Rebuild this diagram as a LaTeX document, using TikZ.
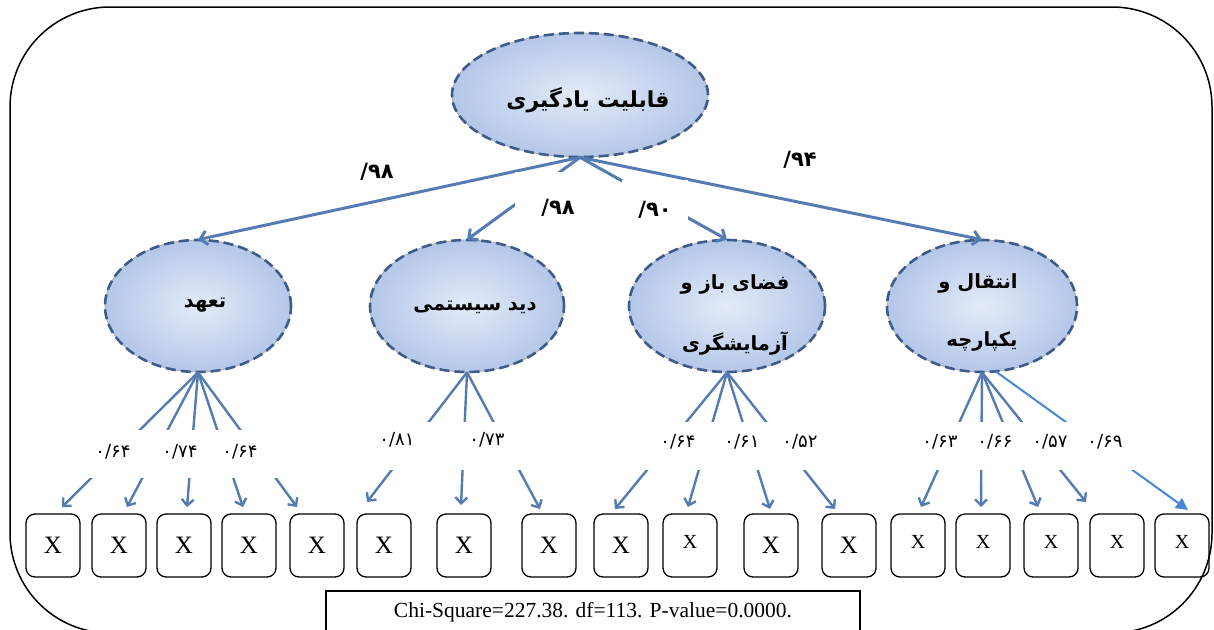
\documentclass[tikz,border=0pt]{standalone}
\usepackage{fontspec}
\setmainfont{Liberation Serif}
\newfontfamily\fa[Script=Arabic]{DejaVu Sans}
\newfontfamily\faL{DejaVu Sans}
\TeXXeTstate=1
\usetikzlibrary{shapes.geometric,arrows.meta}
\definecolor{lineblue}{RGB}{84,124,178}
\definecolor{brightblue}{RGB}{70,135,215}
\definecolor{ellborder}{RGB}{62,92,138}
\definecolor{ellin}{RGB}{228,235,247}
\definecolor{ellout}{RGB}{180,199,233}
\begin{document}
\begin{tikzpicture}[x=1pt,y=-1pt,
  latent/.style={ellipse, inner sep=0pt, shading=radial, inner color=ellin, outer color=ellout,
    draw=gray!70, line width=0.7pt,
    postaction={draw=ellborder, line width=2.6pt, dash pattern=on 10pt off 5pt}},
  lattext/.style={font=\fa\bfseries\fontsize{19.5}{20}\selectfont, inner sep=0pt, align=center},
  indicator/.style={draw, rounded corners=9pt, line width=1.3pt, minimum width=54pt,
    minimum height=63pt, inner sep=0pt, font=\fontsize{25}{25}\selectfont},
  toparrow/.style={draw=lineblue, line width=3pt, -{Straight Barb[length=7pt,width=14pt]}},
  fan/.style={draw=lineblue, line width=2.4pt, -{Straight Barb[length=6pt,width=12pt]}},
  brightfan/.style={draw=brightblue, line width=2pt, -{Triangle[length=12pt,width=12pt]}},
  toplab/.style={font=\fa\bfseries\fontsize{21}{21}\selectfont, inner sep=0pt},
  numlab/.style={font=\fa\fontsize{18}{18}\selectfont, inner sep=0pt}
]
\useasboundingbox (0,0) rectangle (1214,629);
% outer frame
\draw[line width=1.5pt, rounded corners=100pt] (10,7) rectangle (1212,633);
% fit statistics box
\node[draw, line width=1.2pt, minimum width=534pt, minimum height=42pt, inner sep=0pt,
      font=\fontsize{21.5}{22}\selectfont] (chi) at (593,612) {Chi-Square=227.38. df=113. P-value=0.0000.};

% latent variables
\node[latent, minimum width=256pt, minimum height=124pt] (top) at (580,95) {};
\node[lattext, font=\fa\bfseries\fontsize{22}{24}\selectfont] (toptext) at (588,100) {\beginR قابلیت یادگیری\endR};
\node[latent, minimum width=186pt, minimum height=132pt] (e1) at (198,306) {};
\node[lattext] (e1t) at (205,305) {\beginR تعهد\endR};
\node[latent, minimum width=194pt, minimum height=132pt] (e2) at (467,306) {};
\node[lattext] (e2t) at (475,307) {\beginR دید سیستمی\endR};
\node[latent, minimum width=196pt, minimum height=132pt] (e3) at (727,306) {};
\node[lattext] (e3a) at (735,284) {\beginR فضای باز و\endR};
\node[lattext] (e3b) at (735,344) {\beginR آزمایشگری\endR};
\node[latent, minimum width=190pt, minimum height=132pt] (e4) at (982,306) {};
\node[lattext] (e4a) at (978,283) {\beginR انتقال و\endR};
\node[lattext] (e4b) at (982,341) {\beginR یکپارچه\endR};

% indicators
\foreach \i/\x in {1/53,2/119,3/184,4/249,5/317,6/384,7/464,8/549,9/621,11/771,12/849}
  \node[indicator] (b\i) at (\x,545.5) {X};
\foreach \i/\x in {10/690,13/918,14/983,15/1051,16/1117,17/1182}
  \node[indicator] (b\i) at (\x,545.5) {\raisebox{7pt}{\fontsize{20}{20}\selectfont X}};

% arrow tip points above indicators
\coordinate (t1) at (62,507);  \coordinate (t2) at (127,507); \coordinate (t3) at (187,507);
\coordinate (t4) at (243,507); \coordinate (t5) at (297,507);
\coordinate (t6) at (367,502); \coordinate (t7) at (461,505); \coordinate (t8) at (540,509);
\coordinate (t9) at (615,509); \coordinate (t10) at (688,507); \coordinate (t11) at (770,509);
\coordinate (t12) at (835,509);
\coordinate (t13) at (921,507); \coordinate (t14) at (981,507); \coordinate (t15) at (1038,507);
\coordinate (t16) at (1086,502); \coordinate (t17) at (1188,510);

% structural paths
\draw[toparrow] (top.south) -- (e1.north);
\draw[toparrow] (top.south) -- (e2.north);
\draw[toparrow] (top.south) -- (e3.north);
\draw[toparrow] (top.south) -- (e4.north);

% measurement paths
\foreach \j in {1,...,5} \draw[fan] (e1.south) -- (t\j);
\foreach \j in {6,7,8} \draw[fan] (e2.south) -- (t\j);
\foreach \j in {9,...,12} \draw[fan] (e3.south) -- (t\j);
\foreach \j in {13,...,16} \draw[fan] (e4.south) -- (t\j);
\draw[brightfan] (e4.-78) -- (t17);

% white label backgrounds
\fill[white] (515,172) rectangle (595,232);
\fill[white] (622,180) rectangle (688,238);
\fill[white] (82,430) rectangle (290,478);
\fill[white] (378,422) rectangle (527,470);
\fill[white] (635,422) rectangle (822,470);
\fill[white] (920,422) rectangle (1140,470);

% coefficient labels
\node[toplab] (l1) at (377,172) {{\faL\bfseries/}۹۸};
\node[toplab] (l2) at (558,208) {{\faL\bfseries/}۹۸};
\node[toplab] (l3) at (655,210) {{\faL\bfseries/}۹۰};
\node[toplab] (l4) at (800,160) {{\faL\bfseries/}۹۴};

\node[numlab] (n1) at (113,452) {۰/۶۴};
\node[numlab] (n2) at (180,452) {۰/۷۴};
\node[numlab] (n3) at (240,452) {۰/۶۴};
\node[numlab] (n6) at (397,440) {۰/۸۱};
\node[numlab] (n7) at (487,440) {۰/۷۳};
\node[numlab] (n9) at (678,442) {۰/۶۴};
\node[numlab] (n10) at (742,442) {۰/۶۱};
\node[numlab] (n11) at (800,442) {۰/۵۲};
\node[numlab] (n13) at (940,442) {۰/۶۳};
\node[numlab] (n14) at (995,442) {۰/۶۶};
\node[numlab] (n15) at (1050,442) {۰/۵۷};
\node[numlab] (n16) at (1105,442) {۰/۶۹};
\end{tikzpicture}
\end{document}
